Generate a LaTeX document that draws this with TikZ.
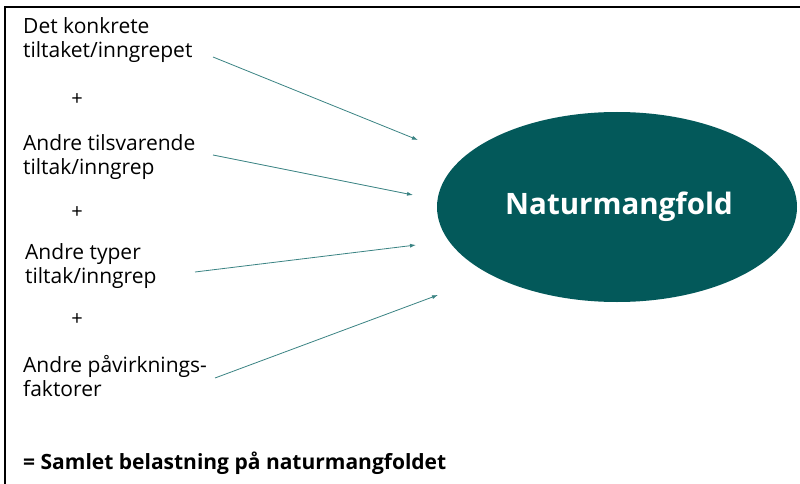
\documentclass[tikz,border=0pt]{standalone}
\usepackage{fontspec}
\setmainfont{Open Sans}
\usetikzlibrary{arrows.meta,shapes.geometric}
\definecolor{teal1}{HTML}{03595A}
\definecolor{arrowc}{HTML}{3A8383}
\begin{document}
\begin{tikzpicture}[x=1pt,y=-1pt,
  lbl/.style={anchor=west,align=left,inner sep=0pt,font=\fontsize{21}{24.5}\selectfont},
  plus/.style={inner sep=0pt,font=\fontsize{20}{22}\selectfont},
  conn/.style={draw=arrowc,line width=0.8pt,-{Latex[length=6pt,width=4pt]}}]
\useasboundingbox (0,0) rectangle (800,484);
\fill[white] (0,0) rectangle (800,484);
\draw[line width=2pt] (5,484) -- (5,7) -- (800,7);
\node[ellipse,fill=teal1,minimum width=360pt,minimum height=190pt,inner sep=0pt] (nat) at (617,207) {};
\node[text=white,font=\bfseries\fontsize{29.5}{31}\selectfont] (natt) at (619,207) {Naturmangfold};
\node[lbl] (t1) at (23,40) {Det konkrete\\tiltaket/inngrepet};
\node[plus] (p1) at (77,100) {+};
\node[lbl] (t2) at (23,157) {Andre tilsvarende\\tiltak/inngrep};
\node[plus] (p2) at (77,213) {+};
\node[lbl] (t3) at (25,266) {Andre typer\\tiltak/inngrep};
\node[plus] (p3) at (77,320) {+};
\node[lbl] (t4) at (23,376) {Andre påvirknings-\\faktorer};
\node[anchor=west,inner sep=0pt,font=\bfseries\fontsize{21}{24}\selectfont] (sum) at (23,463) {= Samlet belastning på naturmangfoldet};
\coordinate (s1) at (213,57);
\coordinate (e1) at (418,140);
\coordinate (s2) at (213,155);
\coordinate (e2) at (413,195);
\coordinate (s3) at (195,272);
\coordinate (e3) at (416,245);
\coordinate (s4) at (215,378);
\coordinate (e4) at (438,295);
\draw[conn] (s1) -- (e1);
\draw[conn] (s2) -- (e2);
\draw[conn] (s3) -- (e3);
\draw[conn] (s4) -- (e4);
\end{tikzpicture}
\end{document}
